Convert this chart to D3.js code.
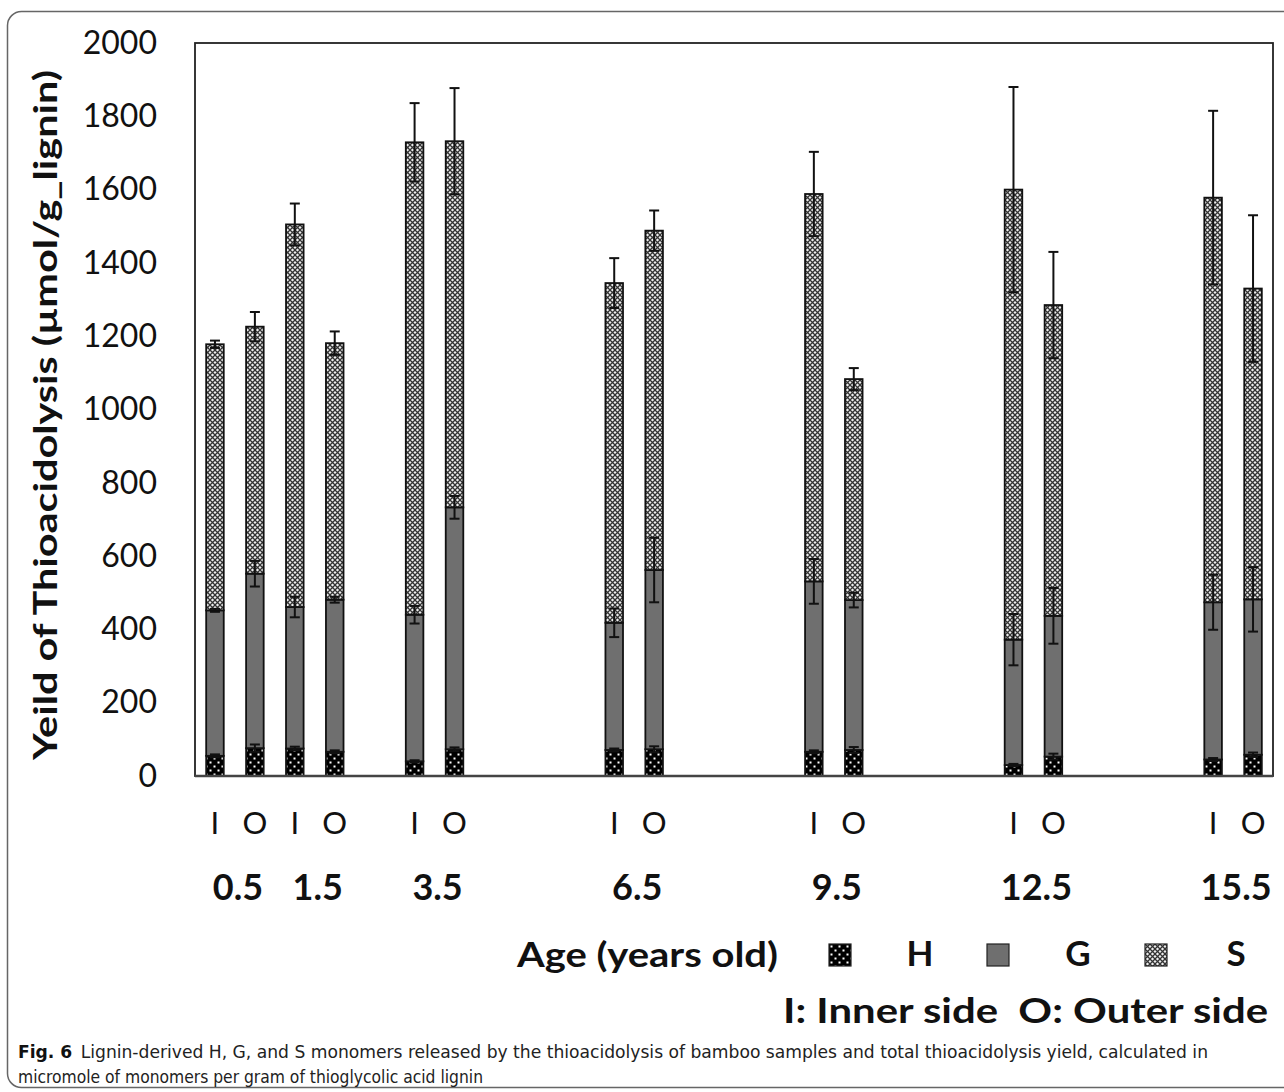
<!DOCTYPE html>
<html>
<head>
<meta charset="utf-8">
<script src="https://cdn.jsdelivr.net/npm/d3@7/dist/d3.min.js"></script>
<style>
  body { margin: 0; background: #fff; }
</style>
</head>
<body>
<div id="chart"></div>
<script>
// data
var ages = ["0.5", "1.5", "3.5", "6.5", "9.5", "12.5", "15.5"];
var sides = ["I", "O"];
// x slots; the "gN" ones are empty gaps between age groups
var slots = ["0.5|I", "0.5|O", "1.5|I", "1.5|O", "g1", "3.5|I", "3.5|O", "g2", "g3", "g4",
             "6.5|I", "6.5|O", "g5", "g6", "g7", "9.5|I", "9.5|O", "g8", "g9", "g10",
             "12.5|I", "12.5|O", "g11", "g12", "g13", "15.5|I", "15.5|O"];
var series = ["H", "G", "S"];

// monomer yields (umol/g lignin), order: 0.5 I, 0.5 O, 1.5 I, 1.5 O, ... 15.5 O
var H = [55, 76, 75, 66, 40, 73, 71, 73, 66, 71, 30, 53, 45, 58];
var G = [397, 476, 386, 415, 400, 660, 347, 489, 465, 409, 342, 384, 429, 424];
var S = [726, 674, 1044, 700, 1289, 999, 927, 926, 1057, 603, 1228, 848, 1104, 848];
// error (+/-) shown at the top of each segment
var H_err = [4, 10, 5, 4, 3, 5, 4, 8, 4, 8, 3, 8, 4, 6];
var G_err = [4, 35, 28, 8, 24, 31, 39, 88, 61, 20, 70, 76, 75, 88];
var S_err = [10, 40, 57, 32, 107, 145, 68, 55, 115, 30, 280, 145, 237, 200];

var yTicks = [0, 200, 400, 600, 800, 1000, 1200, 1400, 1600, 1800, 2000];

var bars = [];
ages.forEach(function(a) { sides.forEach(function(s) { bars.push(a + "|" + s); }); });
var errs = {H: H_err, G: G_err, S: S_err};
var rows = bars.map(function(b, i) { return {key: b, H: H[i], G: G[i], S: S[i]}; });

var W = 1284, Hgt = 1092;
var pLeft = 195, pRight = 1273, pTop = 43, pBottom = 776;
var chartFont = "Lato, 'Open Sans', sans-serif";

var svg = d3.select("#chart")
            .append("svg")
            .attr("width", W).attr("height", Hgt);

// patterns
var defs = svg.append("defs");
var pH = defs.append("pattern").attr("id", "patH").attr("patternUnits", "userSpaceOnUse")
    .attr("width", 8).attr("height", 8);
pH.append("rect").attr("width", 8).attr("height", 8).attr("fill", "#000");
pH.append("rect").attr("x", 1.5).attr("y", 1.5).attr("width", 2).attr("height", 2).attr("fill", "#fff");
pH.append("rect").attr("x", 5.5).attr("y", 5.5).attr("width", 2).attr("height", 2).attr("fill", "#fff");

var pS = defs.append("pattern").attr("id", "patS").attr("patternUnits", "userSpaceOnUse")
    .attr("width", 5).attr("height", 5);
pS.append("rect").attr("width", 5).attr("height", 5).attr("fill", "#eee");
pS.append("path").attr("d", "M0,0L5,5M5,0L0,5").attr("stroke", "#333").attr("stroke-width", 1.3);

var fills = {H: "url(#patH)", G: "#6f6f6f", S: "url(#patS)"};

// outer figure frame
svg.append("rect")
   .attr("x", 7.5).attr("y", 11.5).attr("width", 1300).attr("height", 1076)
   .attr("rx", 14).attr("fill", "none").attr("stroke", "#666").attr("stroke-width", 1.5);

// scales
var x = d3.scaleBand().domain(slots).range([pLeft, pRight]).paddingInner(0.56).paddingOuter(0.28);
var y = d3.scaleLinear().domain([0, 2000]).range([pBottom, pTop]);

// plot box
svg.append("rect")
   .attr("x", pLeft).attr("y", pTop).attr("width", pRight - pLeft).attr("height", pBottom - pTop)
   .attr("fill", "none").attr("stroke", "#222").attr("stroke-width", 1.8);

// y axis
var yAxis = d3.axisLeft(y).tickValues(yTicks).tickFormat(d3.format("d")).tickSize(0).tickPadding(38);
var gy = svg.append("g").attr("transform", "translate(" + pLeft + ",0)").call(yAxis);
gy.select(".domain").remove();
gy.selectAll("text").attr("font-family", chartFont).attr("font-size", 32).attr("fill", "#111");

// bars
var stacked = d3.stack().keys(series)(rows);
svg.selectAll("g.layer")
   .data(stacked)
   .enter().append("g")
   .attr("class", "layer")
   .selectAll("rect")
   .data(function(d) { return d.map(function(v) { v.series = d.key; return v; }); })
   .enter().append("rect")
   .attr("x", function(d) { return x(d.data.key); })
   .attr("y", function(d) { return y(d[1]); })
   .attr("width", x.bandwidth())
   .attr("height", function(d) { return y(d[0]) - y(d[1]); })
   .attr("fill", function(d) { return fills[d.series]; })
   .attr("stroke", "#111").attr("stroke-width", 1.8);

// error bars
var capW = 10;
stacked.forEach(function(layer) {
  layer.forEach(function(d, i) {
    var e = errs[layer.key][i];
    var cx = x(d.data.key) + x.bandwidth() / 2;
    var y1 = y(d[1] + e), y2 = y(d[1] - e);
    var g = svg.append("g").attr("stroke", "#111").attr("stroke-width", 2);
    g.append("line").attr("x1", cx).attr("x2", cx).attr("y1", y1).attr("y2", y2);
    g.append("line").attr("x1", cx - capW / 2).attr("x2", cx + capW / 2).attr("y1", y1).attr("y2", y1);
    g.append("line").attr("x1", cx - capW / 2).attr("x2", cx + capW / 2).attr("y1", y2).attr("y2", y2);
  });
});

// bottom axis line
svg.append("line").attr("x1", pLeft).attr("x2", pRight).attr("y1", pBottom).attr("y2", pBottom)
   .attr("stroke", "#444").attr("stroke-width", 2.5);

// x axis: I / O labels
var xAxis = d3.axisBottom(x).tickSize(0).tickPadding(36)
   .tickFormat(function(d) { return d.indexOf("|") > 0 ? d.split("|")[1] : ""; });
var gx = svg.append("g").attr("transform", "translate(0," + pBottom + ")").call(xAxis);
gx.select(".domain").remove();
gx.selectAll("text").attr("font-family", chartFont).attr("font-size", 31).attr("fill", "#111");

// age labels
svg.selectAll("text.age")
   .data(ages)
   .enter().append("text")
   .attr("class", "age")
   .attr("x", function(a) { return (x(a + "|I") + x(a + "|O") + x.bandwidth()) / 2 + 3; })
   .attr("y", 900)
   .attr("text-anchor", "middle")
   .attr("font-family", chartFont).attr("font-weight", "bold").attr("font-size", 36)
   .attr("fill", "#111")
   .text(function(a) { return a; });

function fitWidth(sel, w) {
  sel.attr("textLength", w).attr("lengthAdjust", "spacingAndGlyphs");
}

// y title
svg.append("text")
   .attr("transform", "translate(57,415) rotate(-90)")
   .attr("text-anchor", "middle")
   .attr("font-family", chartFont).attr("font-weight", "bold").attr("font-size", 33)
   .attr("fill", "#111")
   .text("Yeild of Thioacidolysis (\u00b5mol/g_lignin)")
   .call(fitWidth, 690);

// legend
svg.append("text")
   .attr("x", 517).attr("y", 967)
   .attr("font-family", chartFont).attr("font-weight", "bold").attr("font-size", 35)
   .attr("fill", "#111")
   .text("Age (years old)")
   .call(fitWidth, 261);

var legX = {H: 829, G: 987, S: 1145};
var leg = svg.selectAll("g.leg")
   .data(series)
   .enter().append("g")
   .attr("class", "leg")
   .attr("transform", function(s) { return "translate(" + legX[s] + ",944)"; });
leg.append("rect").attr("width", 22).attr("height", 22)
   .attr("fill", function(s) { return fills[s]; })
   .attr("stroke", "#222").attr("stroke-width", 1.2);
leg.append("text")
   .attr("x", 91).attr("y", 22)
   .attr("text-anchor", "middle")
   .attr("font-family", chartFont).attr("font-weight", "bold").attr("font-size", 35)
   .attr("fill", "#111")
   .text(function(s) { return s; });

svg.append("text")
   .attr("x", 783).attr("y", 1023)
   .attr("font-family", chartFont).attr("font-weight", "bold").attr("font-size", 35)
   .attr("fill", "#111")
   .attr("xml:space", "preserve")
   .text("I: Inner side  O: Outer side")
   .call(fitWidth, 485);

// caption
var capFont = "'Liberation Sans Narrow', 'DejaVu Sans Condensed', 'Noto Sans', sans-serif";
var c1 = svg.append("text")
   .attr("x", 18).attr("y", 1058)
   .attr("font-family", capFont).attr("font-size", 18).attr("fill", "#222");
c1.append("tspan").attr("font-weight", "bold").attr("fill", "#111").text("Fig. 6");
c1.append("tspan").attr("dx", 8).text("Lignin-derived H, G, and S monomers released by the thioacidolysis of bamboo samples and total thioacidolysis yield, calculated in");
c1.call(fitWidth, 1190);

svg.append("text")
   .attr("x", 18).attr("y", 1083)
   .attr("font-family", capFont).attr("font-size", 18).attr("fill", "#222")
   .text("micromole of monomers per gram of thioglycolic acid lignin")
   .call(fitWidth, 465);
</script>
</body>
</html>
